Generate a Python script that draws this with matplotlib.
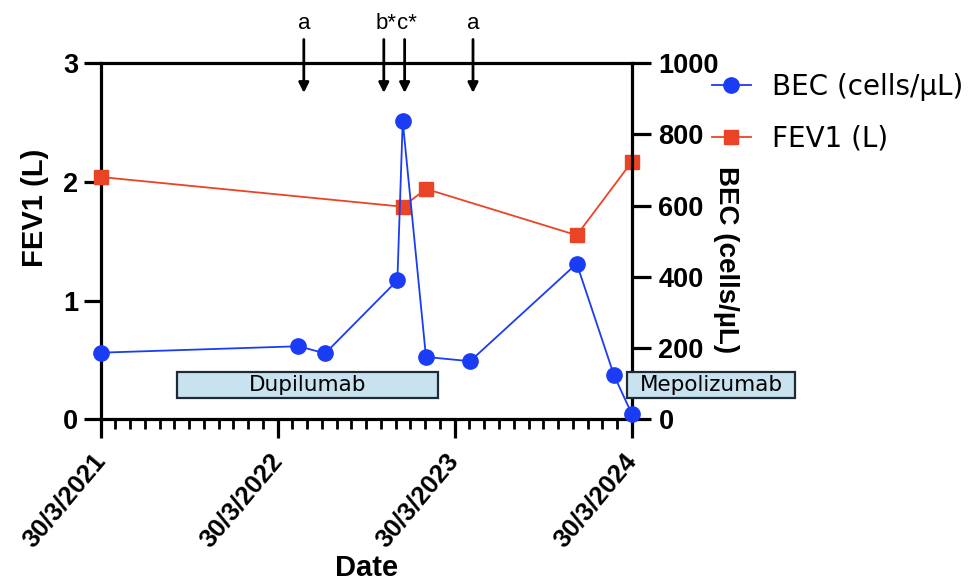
import matplotlib
matplotlib.use('Agg')
import matplotlib.pyplot as plt
import matplotlib.dates as mdates
import matplotlib.transforms as mtransforms
from matplotlib.patches import Rectangle
from matplotlib.lines import Line2D
import numpy as np
import pandas as pd

# ---------------- data ----------------
bec_dates = ['2021-03-30', '2022-05-12', '2022-07-06', '2022-12-02', '2022-12-13',
             '2023-01-30', '2023-05-01', '2023-12-07', '2024-02-22', '2024-03-30']
bec_values = [187, 205, 185, 390, 837, 175, 163, 437, 123, 14]

fev1_dates = ['2021-03-30', '2022-12-13', '2023-01-30', '2023-12-07', '2024-03-30']
fev1_values = [2.04, 1.79, 1.94, 1.55, 2.17]

event_dates = ['2022-05-23', '2022-11-04', '2022-12-17', '2023-05-07']
event_labels = ['a', 'b*', 'c*', 'a']

treat_names = ['Dupilumab', 'Mepolizumab']
treat_start = ['2021-09-03', '2024-03-20']
treat_end = ['2023-02-23', '2025-03-01']

x_ticks = ['2021-03-30', '2022-03-30', '2023-03-30', '2024-03-30']
x_tick_labels = ['30/3/2021', '30/3/2022', '30/3/2023', '30/3/2024']
fev1_ticks = [0, 1, 2, 3]
bec_ticks = [0, 200, 400, 600, 800, 1000]

# ---------------- style ----------------
BLUE = '#1a3cf5'
RED = '#ea4426'
BOX_FC = '#c8e3ef'
BOX_EC = '#1c2b36'
TICKFONT = 'Liberation Sans'
OTHERFONT = 'DejaVu Sans'

W, H = 973, 582
fig = plt.figure(figsize=(W / 100, H / 100), dpi=100)
left, right, top, bottom = 100.7, 632.0, 63.0, 419.3
ax = fig.add_axes([left / W, 1 - bottom / H, (right - left) / W, (bottom - top) / H])
ax2 = ax.twinx()

xd_bec = mdates.date2num(pd.to_datetime(bec_dates))
xd_fev = mdates.date2num(pd.to_datetime(fev1_dates))
xt = mdates.date2num(pd.to_datetime(x_ticks))

ax.set_xlim(xt[0], xt[-1])
ax.set_ylim(0, 3)
ax2.set_ylim(0, 1000)

ax.plot(xd_fev, fev1_values, color=RED, lw=1.3, marker='s', ms=10.5,
        mec=RED, mfc=RED, clip_on=False, zorder=3)
ax2.plot(xd_bec, bec_values, color=BLUE, lw=1.3, marker='o', ms=11,
         mec=BLUE, mfc=BLUE, clip_on=False, zorder=3)

# spines
for s in ['left', 'bottom', 'top']:
    ax.spines[s].set_linewidth(2.3)
ax.spines['right'].set_visible(False)
for s in ['left', 'bottom', 'top']:
    ax2.spines[s].set_visible(False)
ax2.spines['right'].set_linewidth(2.3)

# ticks
ax.set_xticks(xt)
ax.set_xticklabels(x_tick_labels, rotation=50, ha='right', va='center',
                   rotation_mode='anchor',
                   fontfamily=TICKFONT, fontweight='bold', fontsize=18.5)
minor = []
for i in range(len(xt) - 1):
    minor.extend(np.linspace(xt[i], xt[i + 1], 13)[1:-1])
ax.set_xticks(minor, minor=True)
ax.tick_params(axis='x', which='major', length=14, width=2.3, pad=13)
ax.tick_params(axis='x', which='minor', length=7, width=2.0)

ax.set_yticks(fev1_ticks)
ax.set_yticklabels([str(v) for v in fev1_ticks], fontfamily=TICKFONT,
                   fontweight='bold', fontsize=19.5)
ax.tick_params(axis='y', length=12, width=2.3, pad=4)

ax2.set_yticks(bec_ticks)
ax2.set_yticklabels([str(v) for v in bec_ticks], fontfamily=TICKFONT,
                    fontweight='bold', fontsize=19.5)
ax2.tick_params(axis='y', length=14, width=2.3, pad=5)

# axis labels
fig.text(35 / W, 1 - 208 / H, 'FEV1 (L)', rotation=90, ha='center', va='center',
         fontfamily=TICKFONT, fontweight='bold', fontsize=21)
fig.text(726 / W, 1 - 260 / H, 'BEC (cells/µL)', rotation=-90, ha='center', va='center',
         fontfamily=TICKFONT, fontweight='bold', fontsize=20)
fig.text((left + right) / 2 / W, 1 - 568 / H, 'Date', ha='center', va='center',
         fontfamily=TICKFONT, fontweight='bold', fontsize=21)

# event arrows
trans = mtransforms.blended_transform_factory(ax.transData, ax.transAxes)
xd_ev = mdates.date2num(pd.to_datetime(event_dates))
for xv, lab in zip(xd_ev, event_labels):
    ax.annotate('', xy=(xv, 0.916), xytext=(xv, 1.066), xycoords=trans, textcoords=trans,
                arrowprops=dict(arrowstyle='-|>', lw=2.0, color='black',
                                mutation_scale=15, shrinkA=0, shrinkB=0),
                annotation_clip=False)
    if len(lab) > 1:
        ax.annotate(lab, xy=(xv, 1.112), xycoords=trans, xytext=(-8, 0),
                    textcoords='offset pixels', ha='left', va='center',
                    fontfamily=TICKFONT, fontsize=16, annotation_clip=False)
    else:
        ax.text(xv, 1.112, lab, transform=trans, ha='center', va='center',
                fontfamily=TICKFONT, fontsize=16)

# treatment boxes
y0 = (bottom - 398) / (bottom - top)
y1 = (bottom - 372) / (bottom - top)
for name, s, e in zip(treat_names, treat_start, treat_end):
    xs = mdates.date2num(pd.Timestamp(s))
    xe = mdates.date2num(pd.Timestamp(e))
    r = Rectangle((xs, y0), xe - xs, y1 - y0, transform=trans, facecolor=BOX_FC,
                  edgecolor=BOX_EC, lw=1.6, clip_on=False, zorder=5)
    ax2.add_patch(r)
    ax2.text((xs + xe) / 2, (y0 + y1) / 2, name, transform=trans, ha='center',
             va='center', fontfamily=OTHERFONT, fontsize=15.5, zorder=6, clip_on=False)

# legend
handles = [Line2D([], [], color=BLUE, lw=1.3, marker='o', ms=11),
           Line2D([], [], color=RED, lw=1.3, marker='s', ms=10.5)]
fig.legend(handles, ['BEC (cells/µL)', 'FEV1 (L)'], loc='upper left',
           bbox_to_anchor=(712 / W, 1 - 73 / H), frameon=False,
           prop={'family': OTHERFONT, 'size': 20}, handlelength=1.4,
           handletextpad=0.75, labelspacing=0.85, borderpad=0, borderaxespad=0)

fig.savefig('out.png', dpi=100)
